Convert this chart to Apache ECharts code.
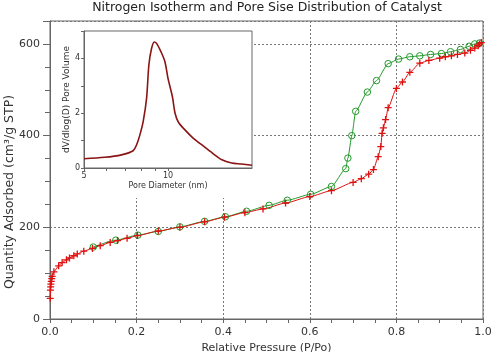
<!DOCTYPE html>
<html><head><meta charset="utf-8">
<script src="https://cdn.jsdelivr.net/npm/echarts@6/dist/echarts.min.js"></script>
<style>html,body{margin:0;padding:0;background:#fff}#c{width:502px;height:352px}</style>
</head><body><div id="c"></div>
<script>
// Adsorption branch (red +)
const adsP = [0.0005,0.001,0.0015,0.002,0.003,0.004,0.005,0.009,0.020,0.028,0.038,0.045,0.055,0.063,0.078,0.098,0.116,0.139,0.156,0.178,0.202,0.250,0.300,0.357,0.403,0.450,0.492,0.544,0.600,0.650,0.700,0.719,0.736,0.747,0.758,0.764,0.767,0.770,0.775,0.781,0.800,0.814,0.831,0.854,0.875,0.900,0.913,0.927,0.941,0.958,0.971,0.981,0.989,0.992,0.996];
const adsQ = [45,63,70,76,82,88,93,103,116,123,129,133,138,142,148,154,160,167,171,176,182,192,200,212,222,232,240,253,267,280,298,306,316,326,354,376,405,417,435,461,503,517,538,558,564,569,572,574,577,580,586,591,596,600,603];
// Desorption branch (green o)
const desP = [0.100,0.152,0.203,0.250,0.300,0.357,0.405,0.454,0.506,0.548,0.602,0.650,0.683,0.688,0.697,0.706,0.733,0.754,0.781,0.805,0.831,0.854,0.879,0.904,0.925,0.948,0.968,0.981,0.992];
const desQ = [157,172,183,191,201,213,223,235,248,259,272,289,328,351,400,453,495,520,557,567,572,574,577,579,583,588,595,600,602];
// Pore size distribution (inset)
const poreD = [5.0,5.93,6.81,7.5,7.72,7.93,8.15,8.38,8.54,8.73,8.93,9.1,9.44,9.75,10.0,10.37,10.6,10.9,11.5,12.3,13.2,14.4,15.6,16.9,18.3,20.0];
const poreV = [0.34,0.39,0.48,0.63,0.85,1.21,1.70,2.55,3.76,4.36,4.6,4.55,4.24,3.88,3.27,2.6,2.0,1.67,1.39,1.09,0.85,0.55,0.30,0.18,0.145,0.10];
const insetXLabels = [5,10];
const insetXTicks = [5,6,7,8,9,10];

const FONT = 'DejaVu Sans';
const RED = '#e01010', GREEN = '#22992a', AX = '#666';
const chart = echarts.init(document.getElementById('c'), null, {renderer:'canvas'});
chart.setOption({
  animation: false,
  backgroundColor: '#fff',
  textStyle: {fontFamily: FONT},
  title: {text: 'Nitrogen Isotherm and Pore Sise Distribution of Catalyst', left: 267, textAlign: 'center', top: 1, padding: 0,
    textStyle: {fontFamily: FONT, fontSize: 12.5, fontWeight: 'normal', color: '#222'}},
  grid: [
    {left: 50, top: 21, width: 433, height: 298, show: true, borderColor: AX, borderWidth: 1, backgroundColor: 'transparent', outerBoundsMode: 'none', containLabel: false},
    {left: 84, top: 31, width: 168, height: 137, show: true, borderColor: AX, borderWidth: 1, backgroundColor: '#fff', z: 3, outerBoundsMode: 'none', containLabel: false}
  ],
  xAxis: [
    {type: 'value', gridIndex: 0, min: 0, max: 1, interval: 0.2,
     name: 'Relative Pressure (P/Po)', nameLocation: 'middle', nameGap: 21,
     nameTextStyle: {fontFamily: FONT, fontSize: 11, color: '#333'},
     axisLine: {lineStyle: {color: AX}}, axisTick: {length: 4, lineStyle: {color: AX}},
     minorTick: {show: true, splitNumber: 4, length: 4, lineStyle: {color: AX}},
     axisLabel: {fontSize: 11, color: '#333', margin: 8, formatter: v => v.toFixed(1)},
     splitLine: {show: true, lineStyle: {color: '#777', type: [2,2], width: 1}}},
    {type: 'log', logBase: 10, gridIndex: 1, min: 5, max: 20, z: 3,
     name: 'Pore Diameter (nm)', nameLocation: 'middle', nameGap: 14,
     nameTextStyle: {fontFamily: FONT, fontSize: 8, color: '#333'},
     axisLine: {lineStyle: {color: AX}}, axisTick: {length: 3, lineStyle: {color: AX}, customValues: insetXTicks},
     axisLabel: {fontSize: 8, color: '#333', margin: 4, customValues: insetXLabels},
     splitLine: {show: false}}
  ],
  yAxis: [
    {type: 'value', gridIndex: 0, min: 0, max: 650, interval: 200,
     axisLine: {show: true, lineStyle: {color: AX}}, axisTick: {show: true, length: 7, lineStyle: {color: AX}},
     minorTick: {show: true, splitNumber: 4, length: 5, lineStyle: {color: AX}},
     axisLabel: {fontSize: 11, color: '#333', margin: 10, showMaxLabel: false},
     splitLine: {show: true, lineStyle: {color: '#777', type: [2,2], width: 1}}},
    {type: 'value', gridIndex: 1, min: 0, max: 5, interval: 1, z: 3,
     name: 'dV/dlog(D) Pore Volume', nameLocation: 'middle', nameGap: 13,
     nameTextStyle: {fontFamily: FONT, fontSize: 9, color: '#333'},
     axisLine: {show: true, lineStyle: {color: AX}}, axisTick: {show: true, length: 3, lineStyle: {color: AX}},
     axisLabel: {fontSize: 8, color: '#333', margin: 4, formatter: v => (v % 2 === 0 && v < 5) ? String(v) : ''},
     splitLine: {show: false}}
  ],
  graphic: [
    {type: 'rect', z: 1, shape: {x: 51, y: 22, width: 201, height: 176}, style: {fill: '#fff'}, silent: true},
    {type: 'text', z: 5, x: 10, y: 192, rotation: Math.PI/2,
     style: {text: 'Quantity Adsorbed (cm³/g STP)', font: '12.5px "DejaVu Sans"', fill: '#333', align: 'center', verticalAlign: 'middle'}}
  ],
  series: [
    {type: 'line', xAxisIndex: 0, yAxisIndex: 0, z: 2,
     data: desP.map((p, i) => [p, desQ[i]]),
     symbol: 'circle', symbolSize: 6.5, smooth: 0.2, smoothMonotone: 'x',
     lineStyle: {color: GREEN, width: 1},
     itemStyle: {color: 'rgba(0,0,0,0)', borderColor: GREEN, borderWidth: 1}},
    {type: 'line', xAxisIndex: 0, yAxisIndex: 0, z: 2,
     data: adsP.map((p, i) => [p, adsQ[i]]),
     symbol: 'path://M5,0L5,10M0,5L10,5', symbolSize: 7, smooth: 0.2, smoothMonotone: 'x',
     lineStyle: {color: RED, width: 1},
     itemStyle: {color: RED, borderColor: RED, borderWidth: 1.3}},
    {type: 'line', xAxisIndex: 1, yAxisIndex: 1, z: 4,
     data: poreD.map((d, i) => [d, poreV[i]]),
     showSymbol: false, smooth: 0.3,
     lineStyle: {color: '#8a1414', width: 1.6}}
  ]
});
</script></body></html>
